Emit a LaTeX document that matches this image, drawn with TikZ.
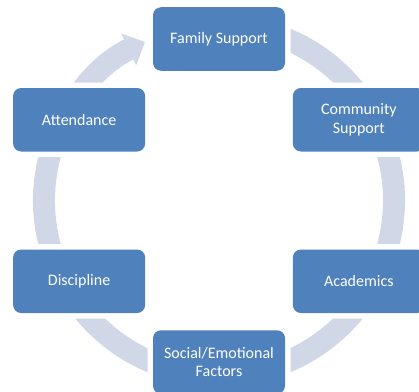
\documentclass[tikz,border=0pt]{standalone}
\usepackage{fontspec}
\setmainfont{Carlito}
\usepackage{tikz}
\usetikzlibrary{arrows.meta,positioning}
\definecolor{boxblue}{HTML}{4F81BD}
\definecolor{ringgray}{HTML}{D0D8E8}

\begin{document}
\begin{tikzpicture}[x=1pt,y=1pt,>={Triangle[length=18pt,width=34pt]},
                    font=\fontsize{16}{18.5}\selectfont]
  \tikzstyle{every node}=[rectangle,rounded corners=8pt,fill=boxblue,text=white,
                          minimum width=132pt,minimum height=63.5pt,inner sep=0pt,
                          align=center,preaction={draw=white,line width=11pt}]
  \tikzstyle{ring}=[draw=ringgray,line width=22pt]

  \useasboundingbox (-219,-190.5) rectangle (200,200.5);
  \coordinate (c) at (0,0);

  % the cycle band, ending in the arrow into Family Support
  \draw[ring,->] (80:175) arc[start angle=80,end angle=-245,radius=175];

  \node (0) at (90:161.5) {Family Support};
  \node (1) at (30:161.5) {Community\\Support};
  \node (2) at (-30:161.5) {Academics};
  \node (3) at (-90:161.5) {Social/Emotional\\Factors};
  \node (4) at (210:161.5) {Discipline};
  \node (5) at (150:161.5) {Attendance};
\end{tikzpicture}
\end{document}
